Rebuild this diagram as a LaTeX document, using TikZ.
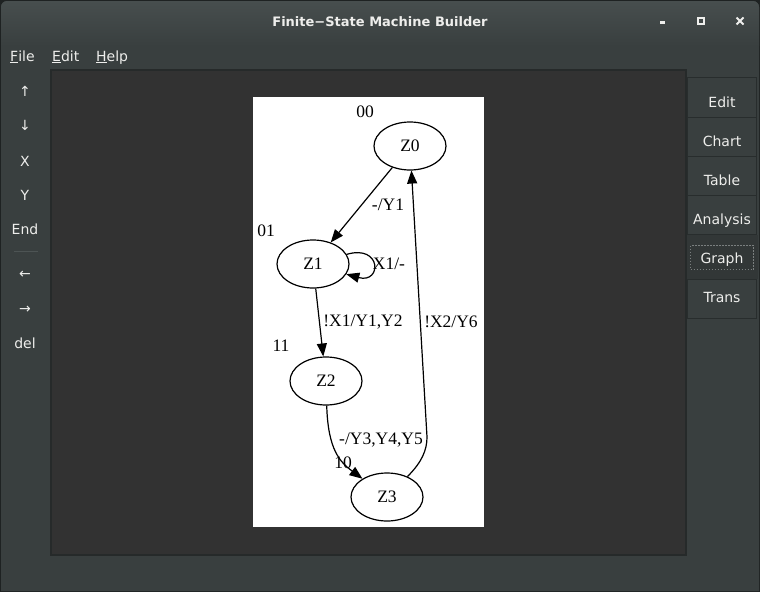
\documentclass[tikz,border=0pt]{standalone}
\usepackage{fontspec}
\setmainfont{Liberation Serif}
\newfontfamily\uifont{DejaVu Sans}
\usetikzlibrary{shapes.geometric,arrows.meta}
\definecolor{winbg}{HTML}{393F3F}
\definecolor{tbtop}{HTML}{474E4E}
\definecolor{canvasbg}{HTML}{323232}
\definecolor{canvasbd}{HTML}{262A2A}
\definecolor{uitext}{HTML}{EEEEEC}
\definecolor{btnbd}{HTML}{282D2D}
\definecolor{selbg}{HTML}{323737}
\definecolor{sepcol}{HTML}{4D5454}
\definecolor{edgecol}{HTML}{1E2222}
\definecolor{focuscol}{HTML}{7A7F7F}
\tikzset{
  uitxt/.style={text=uitext,font=\uifont\fontsize{14}{16}\selectfont,inner sep=0pt},
  tooltxt/.style={uitxt,anchor=base},
  menutxt/.style={uitxt,anchor=base west},
  btnbox/.style={draw=btnbd,fill=winbg,line width=1pt},
  state/.style={ellipse,draw=black,line width=1.2pt,minimum width=72pt,minimum height=48pt,inner sep=0pt,font=\fontsize{17.5}{19}\selectfont},
  glab/.style={inner sep=0pt,font=\fontsize{17.5}{19}\selectfont},
  trans/.style={draw=black,line width=1.2pt,-{Triangle[length=13pt,width=10pt]}},
}
\begin{document}
\begin{tikzpicture}[x=1pt,y=-1pt]
\useasboundingbox (0,0) rectangle (760,592);
% window
\fill[edgecol] (0,0) rectangle (760,592);
\fill[winbg] (1,591) {[rounded corners=6pt] -- (1,1) -- (759,1)} -- (759,591) -- cycle;
\shade[top color=tbtop,bottom color=winbg] (1,46) {[rounded corners=6pt] -- (1,1) -- (759,1)} -- (759,46) -- cycle;
% title
\node[uitxt,anchor=base,font=\uifont\bfseries\fontsize{13}{15}\selectfont] (title) at (380,26) {Finite−State Machine Builder};
% window controls
\fill[uitext] (659.5,21) rectangle (664.5,24) coordinate (minbtn);
\draw[uitext,line width=2pt] (698,18) rectangle (704,24) coordinate (maxbtn);
\draw[uitext,line width=2pt] (736.5,17.5) -- (743.5,24.5) (736.5,24.5) -- (743.5,17.5) coordinate (closebtn);
% menu
\node[menutxt] (mfile) at (10,61) {\underline{F}ile};
\node[menutxt] (medit) at (52,61) {\underline{E}dit};
\node[menutxt] (mhelp) at (96,61) {\underline{H}elp};
% left toolbar
\node[uitxt] (tup) at (25,91.5) {↑};
\node[uitxt] (tdown) at (25,125.5) {↓};
\node[tooltxt] (tx) at (25,166) {X};
\node[tooltxt] (ty) at (25,200) {Y};
\node[tooltxt] (tend) at (25,234) {End};
\draw[sepcol,line width=1pt] (14,251.5) -- (38,251.5) coordinate (sep);
\node[uitxt] (tleft) at (25,275) {←};
\node[uitxt] (tright) at (25,310) {→};
\node[tooltxt] (tdel) at (25,348) {del};
% canvas
\filldraw[fill=canvasbg,draw=canvasbd,line width=2pt] (51,70) rectangle (686,555);
% right tabs
\draw[btnbox] (687.5,77.5) rectangle (756.5,117.5);
\draw[btnbox] (687.5,117.5) rectangle (756.5,156.5);
\draw[btnbox] (687.5,156.5) rectangle (756.5,195.5);
\draw[btnbox] (687.5,195.5) rectangle (756.5,234.5);
\fill[selbg] (686.5,234.5) rectangle (758,279);
\draw[btnbox] (687.5,279.5) rectangle (756.5,318.5);
\draw[focuscol,line width=0.8pt,dash pattern=on 1.5pt off 1.5pt] (690.5,245.5) rectangle (753.5,269.5);
\node[tooltxt] (bedit) at (722,107) {Edit};
\node[tooltxt] (bchart) at (722,146) {Chart};
\node[tooltxt] (btable) at (722,185) {Table};
\node[tooltxt] (banal) at (722,224) {Analysis};
\node[tooltxt] (bgraph) at (722,263) {Graph};
\node[tooltxt] (btrans) at (722,302) {Trans};
% graph image
\fill[white] (253,97) rectangle (484,527);
\node[state] (Z0) at (410,146) {Z0};
\node[state] (Z1) at (313,264) {Z1};
\node[state] (Z2) at (326,381) {Z2};
\node[state] (Z3) at (387,497) {Z3};
\node[glab] (c0) at (365,112) {00};
\node[glab] (c1) at (266,231) {01};
\node[glab] (c2) at (281,346) {11};
\node[glab] (c3) at (343,463) {10};
\draw[trans] (Z0) -- (Z1);
\draw[trans] (Z1.16) .. controls (382,244) and (382,284) .. (Z1.-17);
\draw[trans] (Z1) -- (Z2);
\draw[trans] (Z2) .. controls (328,450) and (340,462) .. (Z3);
\draw[trans] (Z3) .. controls (422,462) and (427,450) .. (427,437) -- (Z0);
\node[glab] (l01) at (388,205) {-/Y1};
\node[glab] (l11) at (389,264) {X1/-};
\node[glab] (l12) at (363,322) {!X1/Y1,Y2};
\node[glab] (l30) at (451,322) {!X2/Y6};
\node[glab] (l23) at (381,440) {-/Y3,Y4,Y5};
\end{tikzpicture}
\end{document}
